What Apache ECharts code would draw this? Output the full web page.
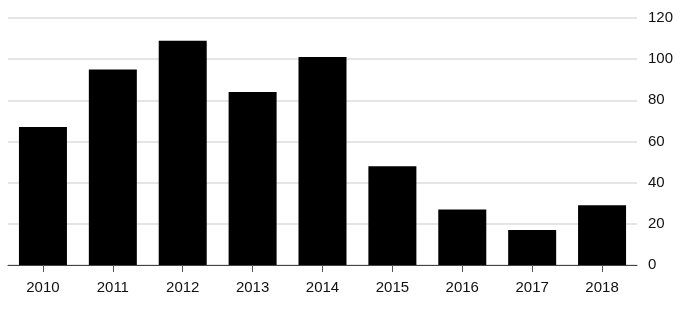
<!DOCTYPE html>
<html><head><meta charset="utf-8">
<script src="https://cdn.jsdelivr.net/npm/echarts@6/dist/echarts.min.js"></script>
<style>html,body{margin:0;padding:0;background:#fff}#c{width:680px;height:311px}</style>
</head><body><div id="c"></div>
<script>
const categories = ['2010','2011','2012','2013','2014','2015','2016','2017','2018'];
const values = [67, 95, 109, 84, 101, 48, 27, 17, 29];
const yTicks = [0, 20, 40, 60, 80, 100, 120];

const chart = echarts.init(document.getElementById('c'), null, {renderer: 'canvas'});
chart.setOption({
  animation: false,
  backgroundColor: '#fff',
  grid: {left: 8, right: 43, top: 18, bottom: 46, containLabel: false},
  xAxis: {
    type: 'category',
    data: categories,
    axisLine: {show: true, lineStyle: {color: '#444', width: 1}},
    axisTick: {show: true, alignWithLabel: true, length: 7, lineStyle: {color: '#555'}},
    axisLabel: {color: '#111', fontSize: 15, fontFamily: 'Liberation Sans, Arial, sans-serif', margin: 15}
  },
  yAxis: {
    type: 'value',
    position: 'right',
    min: yTicks[0],
    max: yTicks[yTicks.length - 1],
    interval: 20,
    axisLine: {show: false},
    axisTick: {show: false},
    splitLine: {show: true, lineStyle: {color: '#dcdcdc', width: 1.5}},
    axisLabel: {color: '#111', fontSize: 15, fontFamily: 'Liberation Sans, Arial, sans-serif', margin: 11}
  },
  series: [{
    type: 'bar',
    data: values,
    barWidth: 48,
    itemStyle: {color: '#000'}
  }]
});
</script></body></html>
